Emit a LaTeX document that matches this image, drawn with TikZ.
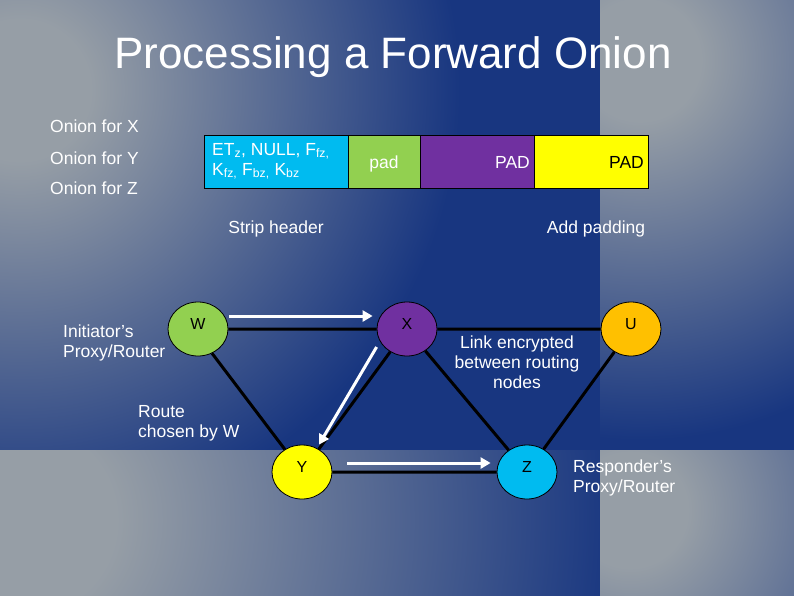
\documentclass[tikz,border=0pt]{standalone}
\usepackage{fontspec}
\setmainfont{Liberation Sans}
\usetikzlibrary{
    arrows.meta,
    shapes.geometric,
    positioning
}

\definecolor{slideblue}{RGB}{24,54,128}
\definecolor{slidegray}{RGB}{150,158,166}
\definecolor{hdrcyan}{RGB}{0,187,240}
\definecolor{padgreen}{RGB}{146,208,80}
\definecolor{padpurple}{RGB}{112,48,160}
\definecolor{padyellow}{RGB}{255,255,0}
\definecolor{uorange}{RGB}{255,192,0}

\pgfdeclareradialshading{tilefade}{\pgfpointorigin}{color(0bp)=(slidegray); color(4bp)=(slidegray); color(25bp)=(slideblue); color(50bp)=(slideblue)}

\tikzset{
    txt/.style={text=white, inner sep=0pt, font=\fontsize{17.5}{20}\selectfont},
    cell/.style={draw=black, line width=0.8pt, minimum height=53pt, inner sep=0pt, outer sep=0pt},
    router/.style={ellipse, draw=black, line width=0.8pt, minimum width=60pt, minimum height=54pt, inner sep=0pt},
    rlabel/.style={anchor=base, inner sep=0pt, font=\fontsize{16}{18}\selectfont},
    link/.style={line width=3pt, black},
    hop/.style={line width=3pt, white, -{Triangle[length=10pt,width=11pt]}}
}

% one tile of the slide background
\newcommand{\bgtile}[7]{%
    \begin{scope}
        \clip (#1,#2) rectangle (#3,#4);
        \shade[shading=tilefade]
            ({#5-#7},{#6-#7}) rectangle ({#5+#7},{#6+#7});
    \end{scope}}

\begin{document}
\begin{tikzpicture}[x=1pt, y=-1pt]
                        \useasboundingbox (0,0) rectangle (794,595);
                        \fill[slideblue] (-2,-2) rectangle (796,597);
                        \bgtile{0}{0}{600}{450}{20}{90}{440}
                        \bgtile{600}{0}{794}{450}{640}{60}{380}
                        \bgtile{0}{450}{600}{595}{20}{520}{600}
                        \bgtile{600}{450}{794}{595}{630}{510}{360}

                        \node[txt, anchor=base, font=\fontsize{44}{50}\selectfont] (title) at (393,68) {Processing a Forward Onion};

                        \node[txt, anchor=base west] (onionX) at (50,132) {Onion for X};
                        \node[txt, anchor=base west] (onionY) at (50,164) {Onion for Y};
                        \node[txt, anchor=base west] (onionZ) at (50,194) {Onion for Z};

                        \node[cell, fill=hdrcyan, minimum width=144pt, anchor=north west] (hdr) at (204,135) {};
                        \node[cell, fill=padgreen, minimum width=72pt, right=0pt of hdr] (pad) {};
                        \node[cell, fill=padpurple, minimum width=114pt, right=0pt of pad] (padx) {};
                        \node[cell, fill=padyellow, minimum width=114pt, right=0pt of padx] (pady) {};
                        \node[txt, anchor=base west, align=left] (hdrtext) at (212,175)
                            {ET\textsubscript{z}, NULL, F\textsubscript{fz,}\\K\textsubscript{fz,} F\textsubscript{bz,} K\textsubscript{bz}};
                        \node[txt, anchor=base] (padtext) at (384,168) {pad};
                        \node[txt, anchor=base east] (padxtext) at (530,168) {PAD};
                        \node[txt, anchor=base east, text=black] (padytext) at (644,168) {PAD};

                        \node[txt, anchor=base] (strip) at (276,233) {Strip header};
                        \node[txt, anchor=base] (addpad) at (596,233) {Add padding};

                        \node[router, fill=padgreen] (W) at (198,329) {};
                        \node[router, fill=padpurple] (X) at (407,329) {};
                        \node[router, fill=uorange] (U) at (631,329) {};
                        \node[router, fill=padyellow] (Y) at (302,472) {};
                        \node[router, fill=hdrcyan] (Z) at (527,472) {};
                        \node[rlabel] (Wl) at (W.center) {W};
                        \node[rlabel] (Xl) at (X.center) {X};
                        \node[rlabel] (Ul) at (U.center) {U};
                        \node[rlabel] (Yl) at (Y.center) {Y};
                        \node[rlabel] (Zl) at (Z.center) {Z};

                        \draw[link]
                        (W) -- (X)
                        (X) -- (U)
                        (W.-60) -- (Y)
                        (X) -- (Y)
                        (X) -- (Z)
                        (U) -- (Z)
                        (Y) -- (Z);

                        \draw[hop] ([yshift=13pt, xshift=1pt]W.east) -- ([yshift=13pt, xshift=-4pt]X.west);
                        \draw[hop] ([yshift=-18pt]X.west) -- ([xshift=17pt]Y.north);
                        \draw[hop] ([xshift=15pt, yshift=9pt]Y.east) -- ([xshift=-6pt, yshift=9pt]Z.west);

                        \node[txt, anchor=base west, align=left] (initiator) at (63,357) {Initiator’s\\Proxy/Router};
                        \node[txt, anchor=base west, align=left] (route) at (138,437) {Route\\chosen by W};
                        \node[txt, anchor=base, align=center] (linkenc) at (517,388) {Link encrypted\\between routing\\nodes};
                        \node[txt, anchor=base west, align=left] (responder) at (573,492) {Responder’s\\Proxy/Router};
                    \end{tikzpicture}
\end{document}
